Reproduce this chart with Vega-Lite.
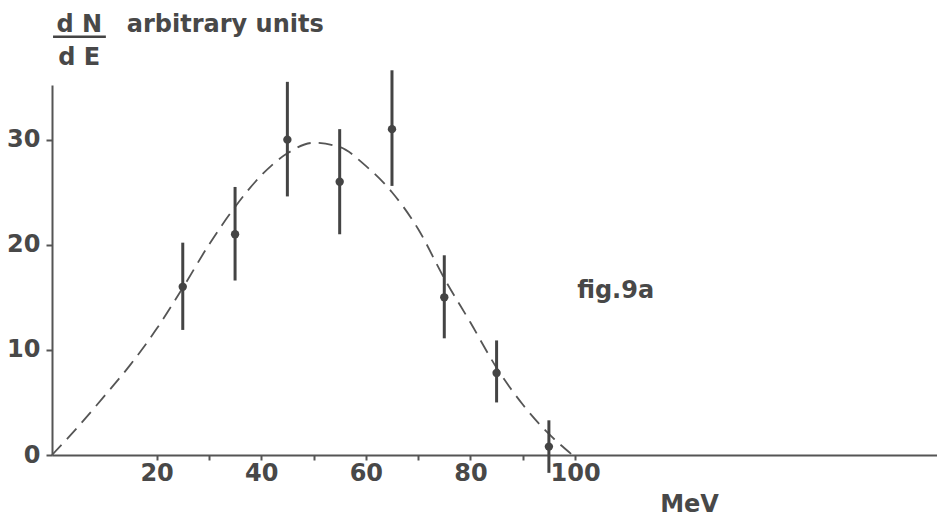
{
  "$schema": "https://vega.github.io/schema/vega-lite/v6.json",
  "width": 885,
  "height": 370,
  "autosize": {"type": "none"},
  "padding": {"left": 52, "top": 85, "right": 0, "bottom": 67},
  "background": "white",
  "config": {
    "view": {"stroke": null},
    "font": "DejaVu Sans",
    "axis": {"grid": false}
  },
  "datasets": {
    "curve": [
      {"E": 0, "N": 0}, {"E": 5, "N": 2.7}, {"E": 10, "N": 5.6}, {"E": 15, "N": 8.6},
      {"E": 20, "N": 12.0}, {"E": 25, "N": 15.9}, {"E": 30, "N": 20.0}, {"E": 35, "N": 23.6},
      {"E": 40, "N": 26.6}, {"E": 45, "N": 28.7}, {"E": 50, "N": 29.7}, {"E": 55, "N": 29.3},
      {"E": 60, "N": 27.5}, {"E": 65, "N": 25.0}, {"E": 70, "N": 21.5}, {"E": 75, "N": 16.8},
      {"E": 80, "N": 12.6}, {"E": 85, "N": 8.3}, {"E": 90, "N": 4.8}, {"E": 95, "N": 2.0},
      {"E": 99.5, "N": 0}
    ],
    "points": [
      {"E": 25, "N": 16.0, "lo": 11.9, "hi": 20.2},
      {"E": 35, "N": 21.0, "lo": 16.6, "hi": 25.5},
      {"E": 45, "N": 30.0, "lo": 24.6, "hi": 35.5},
      {"E": 55, "N": 26.0, "lo": 21.0, "hi": 31.0},
      {"E": 65, "N": 31.0, "lo": 25.6, "hi": 36.6},
      {"E": 75, "N": 15.0, "lo": 11.1, "hi": 19.0},
      {"E": 85, "N": 7.8, "lo": 5.0, "hi": 10.9},
      {"E": 95, "N": 0.8, "lo": -1.7, "hi": 3.3}
    ],
    "centerLabels": [
      {"E": 5.2, "N": 40.2, "text": "d N"},
      {"E": 5.2, "N": 37.1, "text": "d E"}
    ],
    "leftLabels": [
      {"E": 14.3, "N": 40.2, "text": "arbitrary units"},
      {"E": 100.4, "N": 14.9, "text": "fig.9a"}
    ],
    "bar": [{"E": 0.2, "E2": 10.3, "N": 39.8}]
  },
  "layer": [
    {
      "data": {"name": "curve"},
      "mark": {"type": "line", "interpolate": "monotone", "stroke": "#555", "strokeWidth": 1.8, "strokeDash": [14, 8], "clip": false},
      "encoding": {
        "x": {
          "field": "E", "type": "quantitative",
          "scale": {"domain": [0, 169.2], "nice": false, "zero": false},
          "axis": {
            "orient": "bottom",
            "values": [20, 30, 40, 50, 60, 70, 80, 90, 100],
            "labelExpr": "datum.value % 20 == 0 ? datum.label : ''",
            "domainColor": "#555", "domainWidth": 2,
            "tickColor": "#555", "tickWidth": 2, "tickSize": 5,
            "labelFont": "DejaVu Sans", "labelFontSize": 24, "labelFontWeight": "bold", "labelColor": "#484848",
            "labelPadding": 1, "labelFlush": false, "labelOverlap": false,
            "title": "MeV", "titleFont": "DejaVu Sans", "titleFontSize": 24,
            "titleFontWeight": "bold", "titleColor": "#484848",
            "titleX": 637, "titleY": 56, "titleAnchor": null, "titleAlign": "center", "titleBaseline": "alphabetic"
          }
        },
        "y": {
          "field": "N", "type": "quantitative",
          "scale": {"domain": [0, 35.2], "nice": false, "zero": false},
          "axis": {
            "values": [0, 10, 20, 30],
            "domainColor": "#555", "domainWidth": 2,
            "tickColor": "#555", "tickWidth": 2, "tickSize": 6,
            "labelFont": "DejaVu Sans", "labelFontSize": 24, "labelFontWeight": "bold", "labelColor": "#484848",
            "labelPadding": 6, "labelFlush": false, "labelOverlap": false,
            "title": null
          }
        }
      }
    },
    {
      "data": {"name": "points"},
      "mark": {"type": "rule", "stroke": "#444", "strokeWidth": 3, "clip": false},
      "encoding": {
        "x": {"field": "E", "type": "quantitative"},
        "y": {"field": "lo", "type": "quantitative"},
        "y2": {"field": "hi"}
      }
    },
    {
      "data": {"name": "points"},
      "mark": {"type": "point", "shape": "circle", "filled": true, "fill": "#444", "opacity": 1, "size": 70, "clip": false},
      "encoding": {
        "x": {"field": "E", "type": "quantitative"},
        "y": {"field": "N", "type": "quantitative"}
      }
    },
    {
      "data": {"name": "centerLabels"},
      "mark": {"type": "text", "font": "DejaVu Sans", "fontSize": 24, "fontWeight": "bold", "fill": "#484848", "baseline": "alphabetic", "align": "center", "clip": false},
      "encoding": {
        "x": {"field": "E", "type": "quantitative"},
        "y": {"field": "N", "type": "quantitative"},
        "text": {"field": "text"}
      }
    },
    {
      "data": {"name": "leftLabels"},
      "mark": {"type": "text", "font": "DejaVu Sans", "fontSize": 24, "fontWeight": "bold", "fill": "#484848", "baseline": "alphabetic", "align": "left", "clip": false},
      "encoding": {
        "x": {"field": "E", "type": "quantitative"},
        "y": {"field": "N", "type": "quantitative"},
        "text": {"field": "text"}
      }
    },
    {
      "data": {"name": "bar"},
      "mark": {"type": "rule", "stroke": "#444", "strokeWidth": 2.5, "clip": false},
      "encoding": {
        "x": {"field": "E", "type": "quantitative"},
        "x2": {"field": "E2"},
        "y": {"field": "N", "type": "quantitative"}
      }
    }
  ]
}
